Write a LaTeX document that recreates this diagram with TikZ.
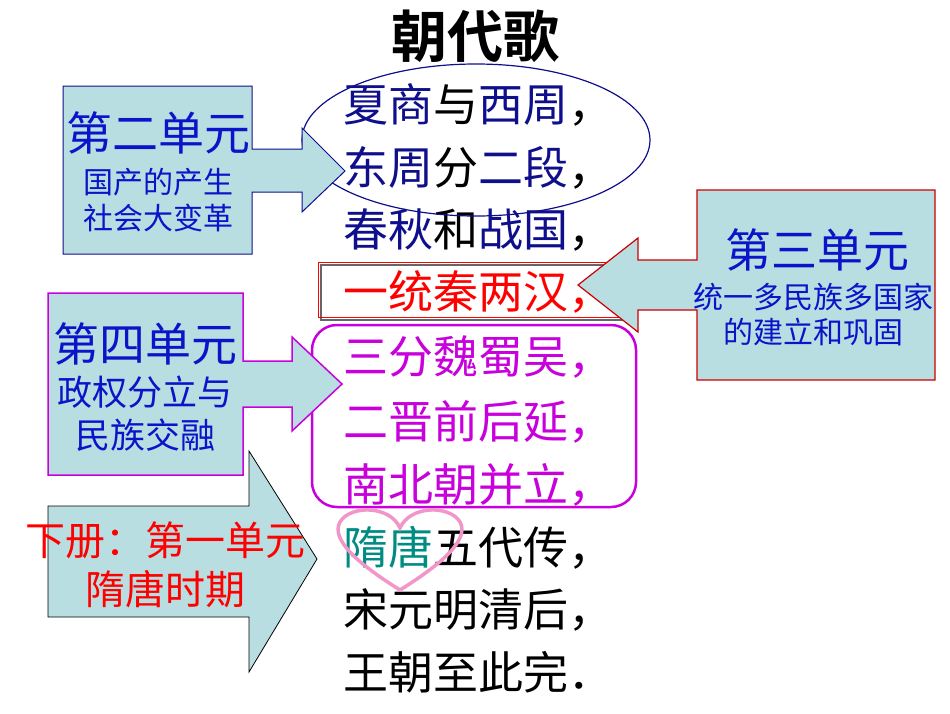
\documentclass[tikz,border=0pt]{standalone}
\usepackage{fontspec}
\setmainfont{Noto Sans CJK SC}
\newfontfamily\cjkbold{Noto Sans CJK SC Bold}
\definecolor{boxfill}{RGB}{184,222,226}
\definecolor{unitblue}{RGB}{10,20,200}
\definecolor{poemblue}{RGB}{15,15,140}
\definecolor{poemmag}{RGB}{200,0,220}
\definecolor{poemteal}{RGB}{0,140,130}
\definecolor{heartpink}{RGB}{240,150,200}
\tikzset{
    poem/.style={anchor=west,inner sep=0pt,font=\fontsize{45}{45}\selectfont},
    unittitle/.style={inner sep=0pt,text=unitblue,font=\fontsize{46}{46}\selectfont},
    unitsub/.style={inner sep=0pt,text=unitblue,align=center,font=\fontsize{30}{36}\selectfont},
}
\begin{document}
\begin{tikzpicture}[x=1pt,y=-1pt]
    \useasboundingbox (0,0) rectangle (950,713);
    % title
    \node[font=\cjkbold\fontsize{56}{56}\selectfont] (title) at (475,36) {朝代歌};
    % poem
    \node[poem] (l1) at (343,105) {\textcolor{poemblue}{夏商}与\textcolor{poemblue}{西周}，};
    \node[poem] (l2) at (343,168) {\textcolor{poemblue}{东周}分\textcolor{poemblue}{二段}，};
    \node[poem] (l3) at (343,230) {\textcolor{poemblue}{春秋}和\textcolor{poemblue}{战国}，};
    \node[poem,text=red] (l4) at (343,292) {一统秦两汉，};
    \node[poem,text=poemmag] (l5) at (343,357) {三分魏蜀吴，};
    \node[poem,text=poemmag] (l6) at (343,422) {二晋前后延，};
    \node[poem,text=poemmag] (l7) at (343,485) {南北朝并立，};
    \node[poem] (l8) at (343,548) {\textcolor{poemteal}{隋唐}五代传，};
    \node[poem] (l9) at (343,610) {宋元明清后，};
    \node[poem] (l10) at (343,672) {王朝至此完．};
    % marks round the poem
    \draw[poemblue,line width=1.2pt] (476,140) ellipse [x radius=174,y radius=76];
    \draw[black!60,line width=2pt] (321,265) rectangle (629,320);
    \draw[red,line width=1pt] (318,262) rectangle (626,317);
    \draw[poemmag,line width=2.5pt,rounded corners=25pt] (312,325) rectangle (636,507);
    \draw[heartpink,line width=3.5pt] (400,590) .. controls (360,565) and (330,540) .. (340,522)
        .. controls (350,505) and (390,505) .. (400,528)
        .. controls (410,505) and (450,505) .. (460,522)
        .. controls (470,540) and (440,565) .. (400,590);
    % unit two
    \draw[fill=boxfill,draw=poemblue,line width=1pt] (63,86) -- (252,86) -- (252,149) -- (302,149)
        -- (302,128) -- (345,171) -- (302,212) -- (302,192) -- (252,192) -- (252,254) -- (63,254) -- cycle;
    \node[unittitle] (u2) at (158,133) {第二单元};
    \node[unitsub] (u2s) at (158,200) {国产的产生\\社会大变革};
    % unit four
    \draw[fill=boxfill,draw=poemmag,line width=1.5pt] (48,293) -- (243,293) -- (243,361) -- (292,361)
        -- (292,337) -- (342,384) -- (292,431) -- (292,407) -- (243,407) -- (243,475) -- (48,475) -- cycle;
    \node[unittitle] (u4) at (145,344) {第四单元};
    \node[unitsub,font=\fontsize{35}{43}\selectfont] (u4s) at (145,414) {政权分立与\\民族交融};
    % book two
    \draw[fill=boxfill,draw=black,line width=0.8pt] (48,506) -- (249,506) -- (249,451) -- (317,559)
        -- (249,672) -- (249,617) -- (48,617) -- cycle;
    \node[inner sep=0pt,text=red,font=\fontsize{40}{40}\selectfont] (b1) at (165,540) {下册：第一单元};
    \node[inner sep=0pt,text=red,font=\fontsize{40}{40}\selectfont] (b1s) at (165,589) {隋唐时期};
    % unit three
    \draw[fill=boxfill,draw=red!80!black,line width=1.2pt] (935,190) -- (697,190) -- (697,260) -- (638,260)
        -- (638,238) -- (578,285) -- (638,332) -- (638,310) -- (697,310) -- (697,380) -- (935,380) -- cycle;
    \node[unittitle] (u3) at (817,250) {第三单元};
    \node[unitsub,font=\fontsize{30}{35}\selectfont] (u3s) at (813,315) {统一多民族多国家\\的建立和巩固};
\end{tikzpicture}
\end{document}
